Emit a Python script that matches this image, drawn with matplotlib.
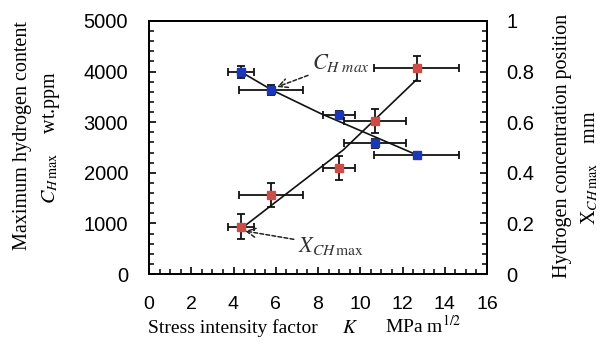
import matplotlib
matplotlib.use("Agg")
import matplotlib.pyplot as plt
from matplotlib.ticker import MultipleLocator

# ---- data ----
K = [4.36, 5.77, 8.99, 10.70, 12.67]
K_err = [0.6, 1.5, 0.76, 1.48, 2.0]

C_H = [3985, 3635, 3140, 2585, 2345]
C_H_err = [120, 100, 80, 85, 40]

X_CH = [0.187, 0.311, 0.420, 0.604, 0.813]
X_CH_err = [0.05, 0.047, 0.047, 0.048, 0.049]

# trend lines
C_trend_K = [4.36, 5.82, 8.10, 12.69]
C_trend_y = [3992, 3636, 3176, 2352]
X_trend_K = [4.39, 9.19, 12.65]
X_trend_y = [0.181, 0.490, 0.767]

x_ticks = [0, 2, 4, 6, 8, 10, 12, 14, 16]
yl_ticks = [0, 1000, 2000, 3000, 4000, 5000]
yr_ticks = [0, 0.2, 0.4, 0.6, 0.8, 1.0]
yr_labels = ["0", "0.2", "0.4", "0.6", "0.8", "1"]

W, H = 607, 349
plt.rcParams['mathtext.fontset'] = 'stix'
fig = plt.figure(figsize=(W / 100, H / 100), dpi=100)
ax = fig.add_axes([149 / W, 1 - 274 / H, (487 - 149) / W, (274 - 21) / H])
ax2 = ax.twinx()

red = "#cc4d47"
blue = "#1b37b8"

# blue series (left axis)
ax.errorbar(K, C_H, xerr=K_err, yerr=C_H_err, fmt='none', ecolor='#111111',
            elinewidth=1.3, capsize=3, capthick=1.3, zorder=2)
ax.plot(C_trend_K, C_trend_y, color='#111111', lw=1.2, zorder=3)
ax.plot(K, C_H, 's', color=blue, ms=6, zorder=4)

# red series (right axis)
ax2.errorbar(K, X_CH, xerr=K_err, yerr=X_CH_err, fmt='none', ecolor='#111111',
             elinewidth=1.3, capsize=3, capthick=1.3, zorder=2)
ax2.plot(X_trend_K, X_trend_y, color='#111111', lw=1.2, zorder=3)
ax2.plot(K, X_CH, 's', color=red, ms=6, zorder=4)

ax.set_xlim(0, 16)
ax.set_ylim(0, 5000)
ax2.set_ylim(0, 1)
ax.set_xticks(x_ticks)
ax.set_yticks(yl_ticks)
ax2.set_yticks(yr_ticks)
ax2.set_yticklabels(yr_labels)
ax.xaxis.set_minor_locator(MultipleLocator(0.5))
ax.yaxis.set_minor_locator(MultipleLocator(200))
ax2.yaxis.set_minor_locator(MultipleLocator(0.04))

for lab in ax.get_xticklabels():
    lab.set_fontfamily('Liberation Sans')
    lab.set_fontsize(14)
for lab in ax.get_yticklabels() + ax2.get_yticklabels():
    lab.set_fontfamily('Liberation Sans')
    lab.set_fontsize(14.5)

ax.tick_params(axis='y', which='both', direction='in', left=True, right=False, pad=15)
ax.tick_params(axis='x', which='both', direction='in', bottom=True, top=False, pad=16)
ax.tick_params(which='major', length=5, width=1.2)
ax.tick_params(which='minor', length=3.3, width=1.1)
ax2.tick_params(axis='y', which='both', direction='in', right=True, left=False, pad=14)
ax2.tick_params(which='major', length=5, width=1.2)
ax2.tick_params(which='minor', length=3.3, width=1.1)
for a in (ax, ax2):
    for s in a.spines.values():
        s.set_linewidth(1.3)

# annotations
serif = 'Liberation Serif'
ax.annotate(r"$C_{H\ max}$", xy=(6.06, 3696), xytext=(7.72, 4170),
            fontsize=16, color='#333333', va='center', ha='left',
            arrowprops=dict(arrowstyle='->', linestyle=(0, (2.5, 1.5)), lw=1.1,
                            color='#222222', shrinkA=1, shrinkB=0))
ax.annotate(r"$X_{CH\,\mathrm{max}}$", xy=(4.54, 850), xytext=(7.05, 560),
            fontsize=16, color='#333333', va='center', ha='left',
            arrowprops=dict(arrowstyle='->', linestyle=(0, (2.5, 1.5)), lw=1.1,
                            color='#222222', shrinkA=1, shrinkB=0))

# axis labels
base = 1 - 333 / H
fig.text(148 / W, base, "Stress intensity factor",
         family=serif, fontsize=14, ha='left', va='baseline')
fig.text(342 / W, base, r"$K$",
         family=serif, fontsize=14, ha='left', va='baseline')
fig.text(385 / W, base, r"MPa m$^{1/2}$",
         family=serif, fontsize=14, ha='left', va='baseline')
fig.text(23 / W, 1 - 136 / H, "Maximum hydrogen content",
         family=serif, fontsize=14.5, rotation=90, ha='center', va='center')
fig.text(51 / W, 1 - 137 / H, r"$C_{H\,\mathrm{max}}$    wt.ppm",
         family=serif, fontsize=14.5, rotation=90, ha='center', va='center')
fig.text(563 / W, 1 - 146 / H, "Hydrogen concentration position",
         family=serif, fontsize=14.5, rotation=90, ha='center', va='center')
fig.text(590 / W, 1 - 168 / H, r"X$_{CH\,\mathrm{max}}$    mm",
         family=serif, fontsize=14.5, rotation=90, ha='center', va='center')

fig.savefig("out.png", dpi=100)
